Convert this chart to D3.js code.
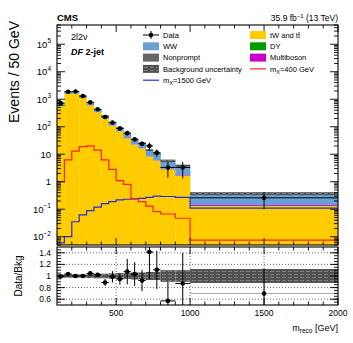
<!DOCTYPE html>
<html>
<head>
<meta charset="utf-8">
<script src="https://cdn.jsdelivr.net/npm/d3@7/dist/d3.min.js"></script>
<style>
  body { margin: 0; background: #fff; }
  svg { display: block; font-family: 'Liberation Sans', Arial, sans-serif; }
</style>
</head>
<body>
<svg id="chart" width="353" height="343"></svg>
<script>
// bins in m_reco (GeV), 50 GeV wide up to 800, then 100 GeV, then one wide bin
const binEdges = [100, 150, 200, 250, 300, 350, 400, 450, 500, 550, 600, 650, 700, 750, 800, 900, 1000, 2000]

// events / 50 GeV
const dataVals = [720, 1880, 1900, 1310, 770, 430, 226, 141, 87, 59, 35, 24, 20, 11.4, 3.3, 3.3, 0.26]
const dataErr = [11, 23, 23, 20, 19, 13, 15, 14, 9, 12, 7, 4.8, 6.6, 3.4, 1.9, 2.0, 0.16]

const topVals = [560, 1546, 1610, 1097, 600, 334, 196, 107, 67, 38, 22, 16.2, 8.2, 5.8, 2.8, 1.65, 0.13]
const dyVals = [65, 25, 15, 8, 4, 2, 1.2, 0.7, 0.4, 0.3, 0.2, 0.1, 0.05, 0.05, 0.03, 0.02, 0.002]
const multibosonVals = [6, 10, 10, 8, 5, 3, 2, 1.3, 0.9, 0.6, 0.4, 0.3, 0.2, 0.15, 0.1, 0.07, 0.01]
const wwVals = [70, 180, 210, 157, 103, 68, 46, 29, 20, 14, 10, 8.4, 5.1, 3.9, 2.6, 1.9, 0.2]
const nonpromptVals = [26, 55, 55, 40, 25, 15, 9, 5, 3.5, 2, 1.3, 1, 0.6, 0.4, 0.25, 0.15, 0.03]

// relative background uncertainty
const bkgUnc = [0.03, 0.03, 0.03, 0.03, 0.035, 0.04, 0.04, 0.045, 0.05, 0.05, 0.06, 0.06, 0.07, 0.07, 0.10, 0.10, 0.12]

const sig400 = [1.0, 6.2, 13, 19, 20, 14, 6.2, 2.8, 1.1, 0.8, 0.23, 0.19, 0.13, 0.082, 0.067, 0.047, 0.0075]
const sig1500 = [0.006, 0.010, 0.035, 0.062, 0.089, 0.12, 0.16, 0.19, 0.22, 0.23, 0.24, 0.25, 0.27, 0.30, 0.29, 0.27, 0.11]

const xMajor = [500, 1000, 1500, 2000]
const xTickLabels = ['500', '1000', '1500', '2000']
const yDecades = [-2, -1, 0, 1, 2, 3, 4, 5]
const ratioMajor = [0.6, 0.8, 1, 1.2, 1.4]
const ratioTickLabels = ['0.6', '0.8', '1', '1.2', '1.4']

const colors = {
    top: '#ffcc00',
    dy: '#009900',
    multiboson: '#cc00cc',
    ww: '#6a9fd4',
    nonprompt: '#666666',
    sig400: '#ff2020',
    sig1500: '#2a2ae0'
}

const svg = d3.select('#chart')

const left = 57, right = 338
const mainTop = 25, mainBottom = 245
const ratioTop = 247, ratioBottom = 305
const yMin = 5e-3, yMax = 5e5

const x = d3.scaleLinear().domain([100, 2000]).range([left, right])
const y = d3.scaleLog().domain([yMin, yMax]).range([mainBottom, mainTop])
const yr = d3.scaleLinear().domain([0.5, 1.5]).range([ratioBottom, ratioTop])

// hatch pattern for the uncertainty band
const defs = svg.append('defs')
const pat = defs.append('pattern')
    .attr('id', 'unc')
    .attr('patternUnits', 'userSpaceOnUse')
    .attr('width', 6).attr('height', 3)
pat.append('rect').attr('width', 6).attr('height', 3).attr('fill', '#505050')
pat.append('line')
    .attr('x1', 0).attr('x2', 4).attr('y1', 1.5).attr('y2', 1.5)
    .attr('stroke', '#8a8a8a').attr('stroke-width', 0.8)

defs.append('clipPath').attr('id', 'clipMain')
    .append('rect').attr('x', left).attr('y', mainTop).attr('width', right - left).attr('height', mainBottom - mainTop)
defs.append('clipPath').attr('id', 'clipRatio')
    .append('rect').attr('x', left).attr('y', ratioTop).attr('width', right - left).attr('height', ratioBottom - ratioTop)

const bins = dataVals.map((d, i) => ({
    lo: binEdges[i],
    hi: binEdges[i + 1],
    data: d,
    err: dataErr[i],
    top: topVals[i],
    dy: dyVals[i],
    multiboson: multibosonVals[i],
    ww: wwVals[i],
    nonprompt: nonpromptVals[i],
    unc: bkgUnc[i]
}))
bins.forEach(b => { b.total = b.top + b.dy + b.multiboson + b.ww + b.nonprompt })

const keys = ['top', 'dy', 'multiboson', 'ww', 'nonprompt']
const stacked = d3.stack().keys(keys)(bins)

// ---------- main panel ----------
const main = svg.append('g').attr('clip-path', 'url(#clipMain)')

stacked.forEach(layer => {
    main.append('g')
        .selectAll('rect')
        .data(layer)
        .enter()
        .append('rect')
        .attr('x', d => x(d.data.lo))
        .attr('width', d => x(d.data.hi) - x(d.data.lo) + 0.3)
        .attr('y', d => y(d[1]))
        .attr('height', d => y(Math.max(d[0], yMin)) - y(d[1]))
        .attr('fill', colors[layer.key])
})

main.append('g')
    .selectAll('rect')
    .data(bins)
    .enter()
    .append('rect')
    .attr('x', d => x(d.lo))
    .attr('width', d => x(d.hi) - x(d.lo))
    .attr('y', d => y(d.total * (1 + d.unc)))
    .attr('height', d => y(d.total * (1 - d.unc)) - y(d.total * (1 + d.unc)))
    .attr('fill', 'url(#unc)')

const stepLine = vals => {
    const pts = vals.map((v, i) => [binEdges[i], v])
    pts.push([binEdges[binEdges.length - 1], vals[vals.length - 1]])
    return d3.line()
        .x(p => x(p[0]))
        .y(p => y(Math.max(p[1], yMin)))
        .curve(d3.curveStepAfter)(pts)
}

main.append('path').attr('d', stepLine(sig1500))
    .attr('fill', 'none').attr('stroke', colors.sig1500).attr('stroke-width', 1.2)
main.append('path').attr('d', stepLine(sig400))
    .attr('fill', 'none').attr('stroke', colors.sig400).attr('stroke-width', 1.2)

const pts = main.append('g')
pts.selectAll('.hbar').data(bins).enter().append('line')
    .attr('x1', d => x(d.lo)).attr('x2', d => x(d.hi))
    .attr('y1', d => y(d.data)).attr('y2', d => y(d.data))
    .attr('stroke', '#000').attr('stroke-width', 1)
pts.selectAll('.vbar').data(bins).enter().append('line')
    .attr('x1', d => x((d.lo + d.hi) / 2)).attr('x2', d => x((d.lo + d.hi) / 2))
    .attr('y1', d => y(d.data + d.err)).attr('y2', d => y(Math.max(d.data - d.err, yMin)))
    .attr('stroke', '#000').attr('stroke-width', 1)
pts.selectAll('circle').data(bins).enter().append('circle')
    .attr('cx', d => x((d.lo + d.hi) / 2))
    .attr('cy', d => y(d.data))
    .attr('r', 2.3)
    .attr('fill', '#000')

// ---------- ratio panel ----------
const ratio = svg.append('g').attr('clip-path', 'url(#clipRatio)')

ratio.append('g').selectAll('line').data(ratioMajor).enter().append('line')
    .attr('x1', left).attr('x2', right)
    .attr('y1', d => yr(d)).attr('y2', d => yr(d))
    .attr('stroke', '#444').attr('stroke-width', 0.8).attr('stroke-dasharray', '1,2')
ratio.append('g').selectAll('line').data([500, 1000, 1500]).enter().append('line')
    .attr('x1', d => x(d)).attr('x2', d => x(d))
    .attr('y1', ratioTop).attr('y2', ratioBottom)
    .attr('stroke', '#444').attr('stroke-width', 0.8).attr('stroke-dasharray', '1,2')

ratio.append('g').selectAll('rect').data(bins).enter().append('rect')
    .attr('x', d => x(d.lo))
    .attr('width', d => x(d.hi) - x(d.lo))
    .attr('y', d => yr(1 + d.unc))
    .attr('height', d => yr(1 - d.unc) - yr(1 + d.unc))
    .attr('fill', 'url(#unc)')

ratio.append('g').selectAll('line').data(bins).enter().append('line')
    .attr('x1', d => x(d.lo)).attr('x2', d => x(d.hi))
    .attr('y1', d => yr(d.data / d.total)).attr('y2', d => yr(d.data / d.total))
    .attr('stroke', d => d.hi > 1000 ? '#aaa' : '#000').attr('stroke-width', 1)
ratio.append('g').selectAll('line').data(bins).enter().append('line')
    .attr('x1', d => x((d.lo + d.hi) / 2)).attr('x2', d => x((d.lo + d.hi) / 2))
    .attr('y1', d => yr((d.data + d.err) / d.total)).attr('y2', d => yr((d.data - d.err) / d.total))
    .attr('stroke', '#000').attr('stroke-width', 1)
ratio.append('g').selectAll('circle').data(bins).enter().append('circle')
    .attr('cx', d => x((d.lo + d.hi) / 2))
    .attr('cy', d => yr(d.data / d.total))
    .attr('r', 2.3)
    .attr('fill', '#000')

// ---------- frames and ticks ----------
const frame = svg.append('g')
const drawFrame = (t, b) => frame.append('rect')
    .attr('x', left).attr('y', t).attr('width', right - left).attr('height', b - t)
    .attr('fill', 'none').attr('stroke', '#000').attr('stroke-width', 1.1)
drawFrame(mainTop, mainBottom)
drawFrame(ratioTop, ratioBottom)

const tick = (x1, y1, x2, y2) => frame.append('line')
    .attr('x1', x1).attr('y1', y1).attr('x2', x2).attr('y2', y2)
    .attr('stroke', '#000').attr('stroke-width', 0.9)

const xMinor = d3.range(200, 2000, 100).filter(v => !xMajor.includes(v))
;[[mainTop, mainBottom], [ratioTop, ratioBottom]].forEach(([t, b]) => {
    xMajor.forEach(v => { tick(x(v), b, x(v), b - 7); tick(x(v), t, x(v), t + 7) })
    xMinor.forEach(v => { tick(x(v), b, x(v), b - 3.5); tick(x(v), t, x(v), t + 3.5) })
})

yDecades.forEach(p => {
    const v = Math.pow(10, p)
    tick(left, y(v), left + 8, y(v))
    tick(right, y(v), right - 8, y(v))
})
const yMinor = []
for (let p = -3; p <= 5; p++) {
    for (let k = 2; k <= 9; k++) {
        const v = k * Math.pow(10, p)
        if (v >= yMin && v <= yMax) yMinor.push(v)
    }
}
yMinor.forEach(v => {
    tick(left, y(v), left + 4, y(v))
    tick(right, y(v), right - 4, y(v))
})

ratioMajor.forEach(v => {
    tick(left, yr(v), left + 8, yr(v))
    tick(right, yr(v), right - 8, yr(v))
})
d3.range(0.55, 1.5, 0.05).forEach(v => {
    tick(left, yr(v), left + 4, yr(v))
    tick(right, yr(v), right - 4, yr(v))
})

// ---------- labels ----------
const txt = svg.append('g').attr('fill', '#000')

yDecades.forEach(p => {
    const t = txt.append('text')
        .attr('x', 51).attr('y', y(Math.pow(10, p)) + 3.5)
        .attr('text-anchor', 'end').attr('font-size', 9.5)
    if (p === 0) t.text('1')
    else if (p === 1) t.text('10')
    else {
        t.append('tspan').text('10')
        t.append('tspan').attr('dy', -4.5).attr('font-size', 6.5).text(String(p).replace('-', '\u2212'))
    }
})

ratioMajor.forEach((v, i) => {
    txt.append('text')
        .attr('x', 51).attr('y', yr(v) + 3)
        .attr('text-anchor', 'end').attr('font-size', 8.5)
        .text(ratioTickLabels[i])
})

xMajor.forEach((v, i) => {
    txt.append('text')
        .attr('x', x(v)).attr('y', 316)
        .attr('text-anchor', 'middle').attr('font-size', 8.5)
        .text(xTickLabels[i])
})

const xt = txt.append('text').attr('x', right).attr('y', 331)
    .attr('text-anchor', 'end').attr('font-size', 9)
xt.append('tspan').text('m')
xt.append('tspan').attr('dy', 2).attr('font-size', 6.5).text('reco')
xt.append('tspan').attr('dy', -2).text(' [GeV]')

txt.append('text')
    .attr('transform', 'translate(19, 72) rotate(-90)')
    .attr('text-anchor', 'middle').attr('font-size', 14)
    .text('Events / 50 GeV')

txt.append('text')
    .attr('transform', `translate(22, ${(ratioTop + ratioBottom) / 2}) rotate(-90)`)
    .attr('text-anchor', 'middle').attr('font-size', 10)
    .text('Data/Bkg')

txt.append('text').attr('x', left).attr('y', 21)
    .attr('font-size', 9.5).attr('font-weight', 'bold').text('CMS')

const lumi = txt.append('text').attr('x', right).attr('y', 21)
    .attr('text-anchor', 'end').attr('font-size', 8.5)
lumi.append('tspan').text('35.9 fb')
lumi.append('tspan').attr('dy', -3.5).attr('font-size', 6).text('\u22121')
lumi.append('tspan').attr('dy', 3.5).text(' (13 TeV)')

txt.append('text').attr('x', 71).attr('y', 40).attr('font-size', 9).text('2l2\u03bd')
const cat = txt.append('text').attr('x', 71).attr('y', 55).attr('font-size', 9).attr('font-weight', 'bold')
cat.append('tspan').attr('font-style', 'italic').text('DF')
cat.append('tspan').text(' 2-jet')

// ---------- legend ----------
const legendLeft = [
    { label: 'Data', kind: 'data' },
    { label: 'WW', kind: 'box', color: colors.ww },
    { label: 'Nonprompt', kind: 'box', color: colors.nonprompt },
    { label: 'Background uncertainty', kind: 'box', color: 'url(#unc)' },
    { label: 'sig1500', kind: 'line', color: colors.sig1500 }
]
const legendRight = [
    { label: 'tW and tt\u0304', kind: 'box', color: colors.top },
    { label: 'DY', kind: 'box', color: colors.dy },
    { label: 'Multiboson', kind: 'box', color: colors.multiboson },
    { label: 'sig400', kind: 'line', color: colors.sig400 }
]
const legend = svg.append('g')
const drawLegend = (items, x0) => {
    items.forEach((it, i) => {
        const cy = 35 + i * 11.3
        if (it.kind === 'box') {
            legend.append('rect').attr('x', x0).attr('y', cy - 4).attr('width', 16).attr('height', 8)
                .attr('fill', it.color)
        } else if (it.kind === 'line') {
            legend.append('line').attr('x1', x0).attr('x2', x0 + 16).attr('y1', cy).attr('y2', cy)
                .attr('stroke', it.color).attr('stroke-width', 1.2)
        } else {
            legend.append('line').attr('x1', x0).attr('x2', x0 + 16).attr('y1', cy).attr('y2', cy)
                .attr('stroke', '#000')
            legend.append('line').attr('x1', x0 + 8).attr('x2', x0 + 8).attr('y1', cy - 4).attr('y2', cy + 4)
                .attr('stroke', '#000')
            legend.append('circle').attr('cx', x0 + 8).attr('cy', cy).attr('r', 2.3).attr('fill', '#000')
        }
        const t = legend.append('text').attr('x', x0 + 20).attr('y', cy + 2.7).attr('font-size', 7.5)
        if (it.label.startsWith('sig')) {
            t.append('tspan').text('m')
            t.append('tspan').attr('dy', 2).attr('font-size', 5.5).text('X')
            t.append('tspan').attr('dy', -2).text(it.label === 'sig400' ? '=400 GeV' : '=1500 GeV')
        } else {
            t.text(it.label)
        }
    })
}
drawLegend(legendLeft, 143)
drawLegend(legendRight, 250)
</script>
</body>
</html>
